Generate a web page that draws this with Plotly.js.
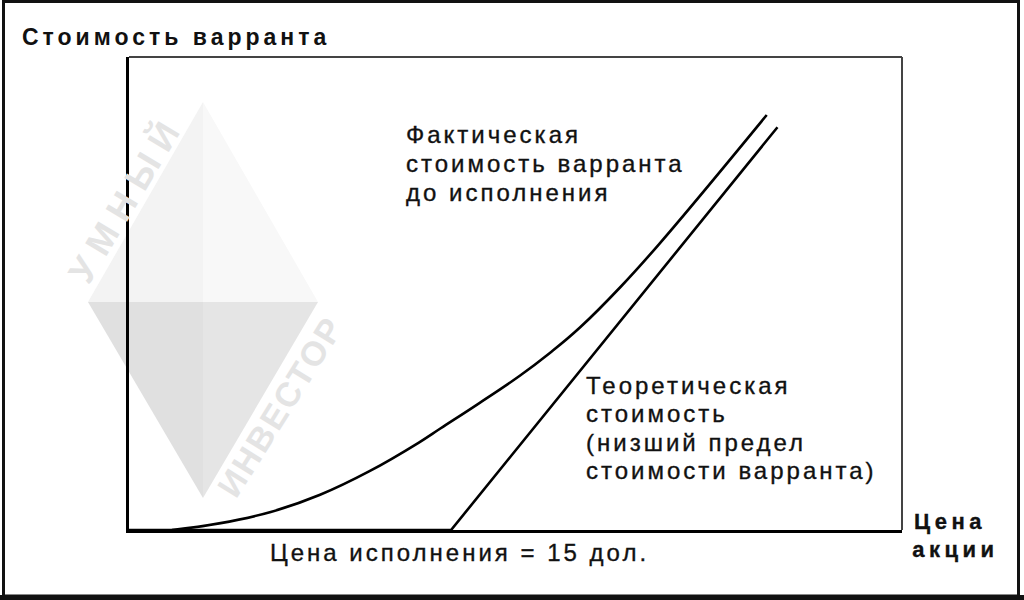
<!DOCTYPE html>
<html>
<head>
<meta charset="utf-8">
<script src="https://cdn.plot.ly/plotly-3.0.1.min.js"></script>
<style>
  html, body { margin: 0; padding: 0; background: #ffffff; }
  #chart { width: 1024px; height: 600px; }
  .annotation-text { letter-spacing: 3px; stroke: #111; stroke-width: 0.35px; }
  .gtitle { letter-spacing: 4px; }
  g.annotation[data-index="8"] text, g.annotation[data-index="9"] text { letter-spacing: 4.5px; }
  g.annotation[data-index="10"] text { letter-spacing: 10px; stroke: none; }
  g.annotation[data-index="11"] text { letter-spacing: 2px; stroke: none; }
</style>
</head>
<body>
<div id="chart"></div>
<script>
// ---- data ----
const strikePrice = 15;
const actualX = [2.0, 4.2, 6.6, 8.9, 11.2, 13.5, 14.5, 16.3, 18.2, 19.6, 21.0, 22.9, 24.7, 29.7];
const actualY = [0, 0.25, 0.68, 1.33, 2.22, 3.3, 3.83, 4.78, 5.82, 6.68, 7.64, 9.18, 10.8, 15.66];
const theoryX = [0, strikePrice, 30.2];
const theoryY = [0, 0, 15.2];

const titleText = "Стоимость варранта";
const actualLabel = ["Фактическая", "стоимость варранта", "до исполнения"];
const theoryLabel = ["Теоретическая", "стоимость", "(низший предел", "стоимости варранта)"];
const strikeLabel = "Цена исполнения = 15 дол.";
const xLabel = ["Цена", "акции"];
const watermark = ["УМНЫЙ", "ИНВЕСТОР"];

// ---- layout geometry (pixels) ----
const W = 1024, H = 600;
const L = 129, R = 902, T = 57, B = 530;
const px = x => (x - L) / (R - L);
const py = y => (B - y) / (B - T);
const FONT = '"Liberation Sans", Arial, sans-serif';

const traces = [
  { x: theoryX, y: theoryY, mode: 'lines', line: { color: '#000', width: 2.6 }, hoverinfo: 'skip', showlegend: false },
  { x: actualX, y: actualY, mode: 'lines', line: { color: '#000', width: 2.6, shape: 'spline', smoothing: 1.2 }, hoverinfo: 'skip', showlegend: false }
];

const annotations = [];
function addText(text, x, y, size, opts) {
  annotations.push(Object.assign({
    text: text, xref: 'paper', yref: 'paper', x: px(x), y: py(y),
    xanchor: 'left', yanchor: 'middle', showarrow: false,
    font: { family: FONT, size: size, color: '#111' }
  }, opts || {}));
}
actualLabel.forEach((t, i) => addText(t, 404, 134 + i * 29, 24));          // 0-2
theoryLabel.forEach((t, i) => addText(t, 584, 385 + i * 28.5, 24));        // 3-6
addText(strikeLabel, 268, 552, 24);                                         // 7
addText('<b>' + xLabel[0] + '</b>', 915, 521, 22);                          // 8
addText('<b>' + xLabel[1] + '</b>', 914, 549, 22);                          // 9
// watermark text
addText('<b>' + watermark[0] + '</b>', 126, 198, 36, { xanchor: 'center', textangle: -59, font: { family: FONT, size: 36, color: '#e4e4e4' } }); // 10
addText('<b>' + watermark[1] + '</b>', 280, 407, 34, { xanchor: 'center', textangle: -58, font: { family: FONT, size: 34, color: '#e4e4e4' } }); // 11

function poly(pts, fill) {
  return {
    type: 'path', xref: 'paper', yref: 'paper', layer: 'below',
    path: 'M ' + pts.map(p => px(p[0]) + ',' + py(p[1])).join(' L ') + ' Z',
    fillcolor: fill, line: { width: 0 }
  };
}
const vTop = [203, 102], vRight = [318, 302], vBottom = [203, 498], vLeft = [88, 302], vMid = [203, 302];
const shapes = [
  poly([vTop, vMid, vLeft], '#f3f3f3'),
  poly([vTop, vRight, vMid], '#f8f8f8'),
  poly([vLeft, vMid, vBottom], '#e0e0e0'),
  poly([vMid, vRight, vBottom], '#e5e5e5'),
  // frame top & right
  { type: 'line', xref: 'paper', yref: 'paper', x0: 0, x1: 1, y0: 1, y1: 1, line: { color: '#444', width: 2 } },
  { type: 'line', xref: 'paper', yref: 'paper', x0: 1, x1: 1, y0: 0, y1: 1, line: { color: '#444', width: 2 } },
  // scanned page border
  { type: 'rect', xref: 'paper', yref: 'paper', x0: px(3.5), x1: px(1018.5), y0: py(596), y1: py(1.5), line: { color: '#111', width: 3 } },
  { type: 'line', xref: 'paper', yref: 'paper', x0: px(0), x1: px(1024), y0: py(597.5), y1: py(597.5), line: { color: '#111', width: 5 } }
];

const layout = {
  width: W, height: H,
  margin: { l: L, r: W - R, t: T, b: H - B, pad: 0 },
  paper_bgcolor: '#fff', plot_bgcolor: 'rgba(0,0,0,0)',
  title: {
    text: '<b>' + titleText + '</b>', xref: 'container', yref: 'container',
    x: 22 / W, xanchor: 'left', y: 1 - 37 / H, yanchor: 'middle',
    font: { family: FONT, size: 23, color: '#111' }
  },
  xaxis: { range: [0, 36], showgrid: false, zeroline: false, showticklabels: false, ticks: '',
           showline: true, linecolor: '#000', linewidth: 3, fixedrange: true },
  yaxis: { range: [0, 17.85], showgrid: false, zeroline: false, showticklabels: false, ticks: '',
           showline: true, linecolor: '#000', linewidth: 3, fixedrange: true },
  annotations: annotations,
  shapes: shapes,
  showlegend: false
};

Plotly.newPlot('chart', traces, layout, { displayModeBar: false, staticPlot: true });
</script>
</body>
</html>
